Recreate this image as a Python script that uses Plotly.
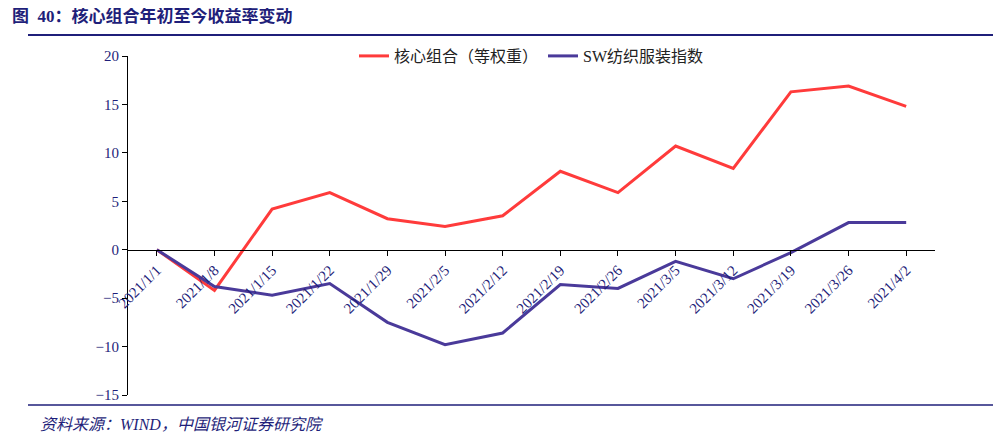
import plotly.graph_objects as go

dates = ["2021/1/1", "2021/1/8", "2021/1/15", "2021/1/22", "2021/1/29", "2021/2/5", "2021/2/12",
         "2021/2/19", "2021/2/26", "2021/3/5", "2021/3/12", "2021/3/19", "2021/3/26", "2021/4/2"]
core = [0, -4.2, 4.2, 5.9, 3.2, 2.4, 3.5, 8.1, 5.9, 10.7, 8.4, 16.3, 16.9, 14.8]
sw_textile = [0, -3.8, -4.7, -3.5, -7.5, -9.8, -8.6, -3.6, -4.0, -1.2, -3.0, -0.3, 2.8, 2.8]

navy = "#1F1F7A"
font = "Liberation Serif, Noto Sans CJK SC"

fig = go.Figure()
fig.add_trace(go.Scatter(x=dates, y=core, mode="lines", name="核心组合（等权重）",
                         line=dict(color="#FF3B3B", width=3)))
fig.add_trace(go.Scatter(x=dates, y=sw_textile, mode="lines", name="SW纺织服装指数",
                         line=dict(color="#4A3A9A", width=3)))

fig.update_layout(
    width=1001, height=448, plot_bgcolor="white", paper_bgcolor="white",
    margin=dict(l=120, r=74, t=48, b=61),
    font=dict(family=font, size=15, color=navy),
    legend=dict(orientation="h", x=0.5, xanchor="center", y=1.0, yanchor="middle",
                font=dict(size=16, color="#222"), bgcolor="rgba(0,0,0,0)"),
    xaxis=dict(type="category", range=[-0.5, 13.5], anchor="free", position=15 / 35,
               showline=True, linecolor="black", linewidth=1, ticks="outside", ticklen=5,
               tickcolor="black", tickangle=-45, showgrid=False,
               tickfont=dict(size=15, color=navy)),
    yaxis=dict(range=[-15, 20], dtick=5, showline=True, linecolor="black", linewidth=1,
               ticks="outside", ticklen=5, tickcolor="black", showgrid=False, zeroline=False,
               tickfont=dict(size=15, color=navy)),
    showlegend=True,
)

fig.add_annotation(text="<b>图  40：核心组合年初至今收益率变动</b>", xref="paper", yref="paper",
                   x=-118 / 807, y=1 + 40 / 339, xanchor="left", yanchor="middle", showarrow=False,
                   font=dict(size=17, color=navy, family=font))
fig.add_shape(type="line", xref="paper", yref="paper", x0=-100 / 807, x1=1 + 60 / 807,
              y0=1 + 21 / 339, y1=1 + 21 / 339, line=dict(color=navy, width=2))
fig.add_shape(type="line", xref="paper", yref="paper", x0=-100 / 807, x1=1 + 60 / 807,
              y0=-10 / 339, y1=-10 / 339, line=dict(color=navy, width=1.5))
fig.add_annotation(text="<i>资料来源：WIND，中国银河证券研究院</i>", xref="paper", yref="paper",
                   x=-90 / 807, y=-30 / 339, xanchor="left", yanchor="middle", showarrow=False,
                   font=dict(size=16, color=navy, family=font))

fig.write_html("out.html")
